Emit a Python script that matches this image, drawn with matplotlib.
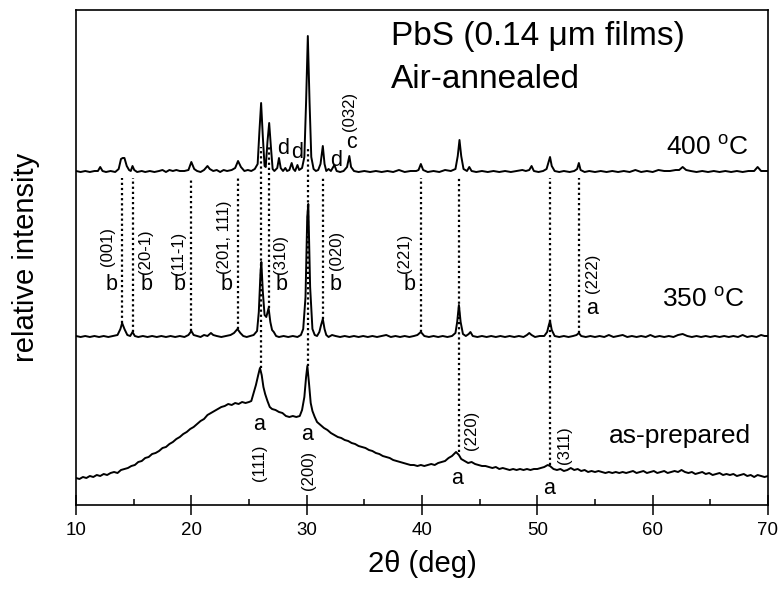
import numpy as np
import matplotlib
matplotlib.use("Agg")
import matplotlib.pyplot as plt

plt.rcParams['font.family'] = ['Liberation Sans', 'DejaVu Sans']
plt.rcParams['mathtext.fontset'] = 'custom'
plt.rcParams['mathtext.rm'] = 'Liberation Sans'
plt.rcParams['mathtext.it'] = 'Liberation Sans:italic'

# ---- data (intensity in arbitrary units) ----
# 400 C trace, height above its own baseline
x_400 = [10.0, 10.4, 10.8, 11.2, 11.6, 11.9, 12.1, 12.3, 12.6, 13.0, 13.4, 13.7, 13.9, 14.05, 14.2, 14.4,
         14.6, 14.75, 14.9, 15.05, 15.3, 15.7, 16.0, 16.4, 16.8, 17.2, 17.5, 17.8, 18.1, 18.4, 18.7, 19.0,
         19.4, 19.75, 20.0, 20.25, 20.5, 20.8, 21.1, 21.4, 21.6, 21.9, 22.2, 22.5, 22.8, 23.1, 23.5, 23.8,
         24.05, 24.3, 24.6, 24.9, 25.2, 25.5, 25.75, 25.9, 26.05, 26.2, 26.35, 26.45, 26.6, 26.75, 26.9,
         27.05, 27.2, 27.45, 27.6, 27.75, 27.95, 28.15, 28.3, 28.5, 28.7, 28.85, 29.0, 29.2, 29.35, 29.6,
         29.8, 29.95, 30.1, 30.25, 30.4, 30.6, 30.8, 31.0, 31.2, 31.4, 31.55, 31.7, 31.9, 32.1, 32.4, 32.6,
         32.9, 33.2, 33.5, 33.7, 33.85, 34.1, 34.5, 35.0, 35.5, 36.0, 36.5, 37.0, 37.5, 38.0, 38.5, 39.0,
         39.5, 39.7, 39.9, 40.1, 40.5, 41.0, 41.5, 42.0, 42.5, 42.9, 43.1, 43.25, 43.4, 43.6, 43.9, 44.1,
         44.3, 44.7, 45.2, 45.7, 46.2, 46.7, 47.2, 47.7, 48.2, 48.7, 49.0, 49.3, 49.5, 49.7, 50.1, 50.5,
         50.8, 50.95, 51.1, 51.25, 51.5, 51.9, 52.3, 52.8, 53.2, 53.45, 53.6, 53.75, 54.1, 54.5, 55.0,
         55.5, 56.0, 56.5, 57.0, 57.5, 58.0, 58.5, 59.0, 59.5, 60.0, 60.5, 61.0, 61.5, 62.0, 62.3, 62.6,
         62.9, 63.3, 63.8, 64.3, 64.8, 65.3, 65.8, 66.3, 66.8, 67.3, 67.8, 68.3, 68.8, 69.1, 69.4, 70.0]
y_400 = [1, 0, 1, 0, 1, 1, 5, 1, 0, 1, 0, 3, 13, 14, 14, 6,
         2, 1, 6, 2, 0, 1, 0, 1, 0, 1, 2, 0, 2, 1, 2, 1,
         1, 2, 10, 3, 1, 0, 2, 6, 3, 1, 2, 0, 2, 1, 2, 4,
         11, 5, 1, 2, 1, 3, 8, 40, 69, 35, 6, 5, 30, 49, 25,
         3, 1, 4, 14, 4, 1, 4, 1, 2, 9, 3, 1, 7, 2, 4,
         15, 70, 136, 70, 15, 3, 1, 2, 8, 26, 8, 1, 3, 1, 7, 1,
         0, 1, 5, 16, 5, 1, 0, 1, 0, 1, 0, 1, 0, 2, 0, 1,
         1, 2, 8, 2, 0, 1, 0, 2, 1, 3, 16, 32, 16, 3, 1, 5,
         1, 0, 1, 0, 1, 0, 1, 0, 1, 2, 1, 2, 6, 1, 0, 1,
         3, 9, 15, 6, 1, 0, 1, 0, 1, 3, 9, 2, 0, 1, 0,
         1, 0, 1, 0, 1, 0, 2, 0, 1, 0, 2, 1, 1, 2, 2, 5,
         2, 1, 0, 1, 0, 1, 0, 1, 0, 1, 0, 1, 1, 5, 1, 1]

# 350 C trace, height above its own baseline
x_350 = [10.0, 10.4, 10.8, 11.2, 11.6, 12.0, 12.4, 12.8, 13.2, 13.6, 13.85, 14.0, 14.2, 14.45, 14.7, 14.9,
         15.1, 15.4, 15.8, 16.2, 16.6, 17.0, 17.4, 17.8, 18.2, 18.6, 19.0, 19.4, 19.75, 20.0, 20.2, 20.5,
         20.8, 21.1, 21.4, 21.7, 21.9, 22.2, 22.6, 23.0, 23.4, 23.7, 24.0, 24.25, 24.5, 24.8, 25.1, 25.4,
         25.7, 25.85, 26.0, 26.07, 26.2, 26.35, 26.5, 26.7, 26.85, 27.0, 27.15, 27.35, 27.6, 28.0, 28.4,
         28.8, 29.2, 29.5, 29.7, 29.9, 30.05, 30.14, 30.3, 30.5, 30.7, 30.9, 31.1, 31.25, 31.4, 31.55,
         31.7, 31.9, 32.2, 32.5, 32.9, 33.3, 33.7, 34.1, 34.5, 34.9, 35.3, 35.7, 36.1, 36.5, 36.9, 37.3,
         37.7, 38.1, 38.5, 38.9, 39.3, 39.6, 39.9, 40.2, 40.6, 41.0, 41.4, 41.8, 42.2, 42.6, 42.9, 43.05,
         43.2, 43.35, 43.55, 43.8, 44.05, 44.2, 44.4, 44.8, 45.2, 45.6, 46.0, 46.4, 46.8, 47.2, 47.6, 48.0,
         48.4, 48.8, 49.1, 49.3, 49.5, 49.8, 50.2, 50.6, 50.85, 51.0, 51.1, 51.25, 51.5, 51.9, 52.3, 52.7,
         53.1, 53.4, 53.6, 53.8, 54.2, 54.6, 55.0, 55.4, 55.8, 56.2, 56.6, 57.0, 57.4, 57.8, 58.2, 58.6,
         59.0, 59.4, 59.8, 60.2, 60.6, 61.0, 61.4, 61.8, 62.2, 62.6, 63.0, 63.4, 63.8, 64.2, 64.6, 65.0,
         65.4, 65.8, 66.2, 66.6, 67.0, 67.4, 67.8, 68.2, 68.6, 69.0, 69.4, 69.7, 70.0]
y_350 = [1, 0, 1, 0, 1, 0, 1, 0, 1, 2, 8, 14, 8, 2, 1, 5,
         1, 0, 1, 0, 1, 0, 1, 0, 1, 0, 1, 0, 2, 6, 2, 1,
         0, 2, 1, 4, 2, 1, 0, 1, 2, 4, 8, 4, 1, 0, 1, 2,
         6, 25, 65, 75, 45, 22, 20, 29, 15, 7, 5, 1, 0, 1, 0,
         1, 0, 2, 8, 40, 120, 133, 50, 8, 2, 1, 5, 12, 18, 8,
         2, 0, 2, 1, 0, 1, 0, 1, 0, 1, 0, 1, 0, 1, 2, 0,
         1, 0, 1, 0, 1, 2, 5, 1, 0, 1, 0, 1, 0, 1, 4, 15,
         32, 15, 3, 1, 3, 5, 1, 0, 1, 0, 1, 0, 1, 0, 1, 0,
         1, 0, 2, 4, 2, 0, 1, 1, 5, 12, 16, 7, 1, 0, 1, 0,
         1, 2, 4, 1, 0, 1, 0, 1, 0, 2, 0, 1, 2, 0, 1, 0,
         1, 0, 2, 0, 1, 0, 1, 0, 2, 3, 1, 0, 1, 0, 1, 0,
         1, 0, 1, 0, 1, 0, 2, 0, 1, 0, 2, 1, 1]

# as-prepared trace (amorphous hump + PbS peaks)
x_asp = [10.0, 10.3, 10.6, 10.9, 11.2, 11.5, 11.8, 12.1, 12.4, 12.7, 13.0, 13.3, 13.6, 13.9, 14.2, 14.5,
         14.8, 15.1, 15.4, 15.7, 16.0, 16.3, 16.6, 16.9, 17.2, 17.5, 17.8, 18.1, 18.4, 18.7, 19.0, 19.3,
         19.6, 19.9, 20.2, 20.5, 20.8, 21.1, 21.4, 21.7, 22.0, 22.3, 22.6, 22.9, 23.2, 23.5, 23.8, 24.1,
         24.4, 24.7, 25.0, 25.2, 25.4, 25.6, 25.8, 25.95, 26.1, 26.25, 26.4, 26.6, 26.8, 27.0, 27.3, 27.6,
         27.9, 28.2, 28.5, 28.8, 29.1, 29.4, 29.6, 29.8, 29.95, 30.06, 30.2, 30.35, 30.5, 30.7, 30.9, 31.2,
         31.5, 31.8, 32.1, 32.4, 32.7, 33.0, 33.3, 33.6, 33.9, 34.2, 34.5, 34.8, 35.1, 35.4, 35.7, 36.0,
         36.3, 36.6, 36.9, 37.2, 37.5, 37.8, 38.1, 38.4, 38.7, 39.0, 39.3, 39.6, 39.9, 40.2, 40.5, 40.8,
         41.1, 41.4, 41.7, 42.0, 42.3, 42.6, 42.95, 43.2, 43.4, 43.7, 44.0, 44.3, 44.6, 44.9, 45.2, 45.5,
         45.8, 46.1, 46.4, 46.7, 47.0, 47.3, 47.6, 47.9, 48.2, 48.5, 48.8, 49.1, 49.4, 49.7, 50.0, 50.3,
         50.6, 50.9, 51.1, 51.4, 51.7, 52.0, 52.3, 52.6, 52.9, 53.2, 53.5, 53.8, 54.1, 54.4, 54.7, 55.0,
         55.3, 55.6, 55.9, 56.2, 56.5, 56.8, 57.1, 57.4, 57.7, 58.0, 58.3, 58.6, 58.9, 59.2, 59.5, 59.8,
         60.1, 60.4, 60.7, 61.0, 61.3, 61.6, 61.9, 62.2, 62.5, 62.8, 63.1, 63.4, 63.7, 64.0, 64.3, 64.6,
         64.9, 65.2, 65.5, 65.8, 66.1, 66.4, 66.7, 67.0, 67.3, 67.6, 67.9, 68.2, 68.5, 68.8, 69.1, 69.4,
         69.7, 70.0]
y_asp = [27, 26, 28, 27, 29, 28, 30, 29, 31, 30, 32, 33, 32, 35, 36, 37,
         39, 40, 43, 44, 47, 48, 51, 52, 54, 57, 58, 61, 63, 66, 68, 71,
         73, 76, 78, 81, 84, 86, 90, 92, 94, 96, 98, 99, 101, 100, 102, 101,
         103, 102, 103, 104, 112, 120, 130, 137, 130, 118, 111, 104, 98, 96, 95, 93,
         92, 89, 88, 89, 88, 89, 95, 108, 128, 139, 122, 102, 94, 88, 83, 80,
         77, 75, 72, 70, 68, 67, 65, 64, 62, 61, 59, 58, 57, 55, 54, 52,
         51, 49, 48, 47, 45, 44, 43, 42, 41, 40, 40, 39, 40, 39, 40, 41,
         40, 42, 43, 44, 47, 49, 53, 50, 46, 44, 42, 43, 41, 40, 39, 39,
         38, 37, 38, 36, 37, 36, 35, 36, 35, 36, 35, 36, 35, 36, 36, 37,
         38, 40, 39, 36, 35, 36, 34, 35, 37, 35, 36, 34, 35, 33, 34, 33,
         34, 33, 32, 33, 32, 33, 32, 33, 32, 33, 34, 32, 33, 34, 32, 33,
         34, 32, 33, 34, 32, 33, 34, 33, 35, 33, 32, 33, 31, 32, 33, 31,
         32, 30, 31, 32, 30, 31, 30, 31, 29, 30, 31, 29, 30, 28, 30, 29,
         28, 29]

# reflection markers: 2theta, which lower trace the line drops to
ref_x = [14.0, 14.9, 20.0, 24.05, 26.05, 26.75, 30.1, 31.4, 39.9, 43.2, 51.1, 53.6]
ref_to = ['350', '350', '350', '350', 'asp', '350', 'asp', '350', '350', 'asp', 'asp', '350']

off_400, off_350, off_asp = 333, 168, 0

fig = plt.figure(figsize=(7.81, 5.90), dpi=100)
ax = fig.add_axes([76 / 781, 85 / 590, 692 / 781, 495 / 590])

lw = 1.4
ax.plot(x_400, np.array(y_400) + off_400, color='black', lw=lw)
ax.plot(x_350, np.array(y_350) + off_350, color='black', lw=lw)
ax.plot(x_asp, np.array(y_asp) + off_asp, color='black', lw=lw)

traces = {'400': (x_400, y_400, off_400), '350': (x_350, y_350, off_350), 'asp': (x_asp, y_asp, off_asp)}


def near_max(key, xr, win=0.3):
    xs, ys, off = traces[key]
    xs, ys = np.array(xs), np.array(ys)
    return ys[np.abs(xs - xr) <= win].max() + off


for xr, to in zip(ref_x, ref_to):
    top_h = near_max('400', xr, 0.1) - off_400
    start = off_400 + (25 if top_h > 40 else -6)
    ax.vlines(xr, near_max(to, xr), start, colors='black', lw=1.6, linestyles=(0, (1, 1.3)))

# text annotations
lab = dict(fontsize=15.5, ha='center', va='center')
hkl = dict(fontsize=12, ha='center', va='center', rotation=90)

ax.text(37.3, 468, u'PbS (0.14 \u03bcm films)', fontsize=24, ha='left', va='center')
ax.text(37.3, 426, 'Air-annealed', fontsize=24, ha='left', va='center')
ax.text(68.3, 357, r'400 $^{\rm o}$C', fontsize=19, ha='right', va='center')
ax.text(68.0, 205, r'350 $^{\rm o}$C', fontsize=19, ha='right', va='center')
ax.text(68.5, 69, 'as-prepared', fontsize=19, ha='right', va='center')

# 400 C phase letters
ax.text(28.0, 357, 'd', **lab)
ax.text(29.2, 353, 'd', **lab)
ax.text(32.55, 345, 'd', **lab)
ax.text(33.9, 362, 'c', **lab)
ax.text(33.75, 394, '(032)', **hkl)

# 350 C phase letters
for xb, xh, yh, s in [(13.1, 12.7, 258, '(001)'), (16.1, 16.0, 253, '(20-1)'), (19.0, 18.9, 252, '(11-1)'),
                      (23.07, 22.9, 268, '(201, 111)'), (27.8, 27.7, 250, '(310)'), (32.5, 32.6, 255, '(020)'),
                      (38.95, 38.5, 252, '(221)')]:
    ax.text(xb, 221, 'b', **lab)
    ax.text(xh, yh, s, **hkl)
ax.text(54.75, 197, 'a', **lab)
ax.text(54.8, 232, '(222)', **hkl)

# as-prepared letters
ax.text(25.9, 80, 'a', **lab)
ax.text(25.9, 42, '(111)', **hkl)
ax.text(30.0, 70, 'a', **lab)
ax.text(30.15, 35, '(200)', **hkl)
ax.text(43.05, 26, 'a', **lab)
ax.text(44.3, 75, '(220)', **hkl)
ax.text(51.05, 17, 'a', **lab)
ax.text(52.35, 60, '(311)', **hkl)

ax.set_xlim(10, 70)
ax.set_ylim(0, 495)
ax.set_xticks(np.arange(10, 71, 10))
ax.set_xticks(np.arange(15, 70, 10), minor=True)
ax.tick_params(axis='x', which='major', direction='inout', length=14, width=1.1, labelsize=13.5, pad=5)
ax.tick_params(axis='x', which='minor', direction='in', length=4.5, width=1.1)
ax.set_yticks([])
for sp in ax.spines.values():
    sp.set_linewidth(1.2)

ax.set_xlabel(u'2\u03b8 (deg)', fontsize=21, labelpad=8)
ax.set_ylabel('relative intensity', fontsize=21, labelpad=26)

fig.savefig('out.png', dpi=100)
